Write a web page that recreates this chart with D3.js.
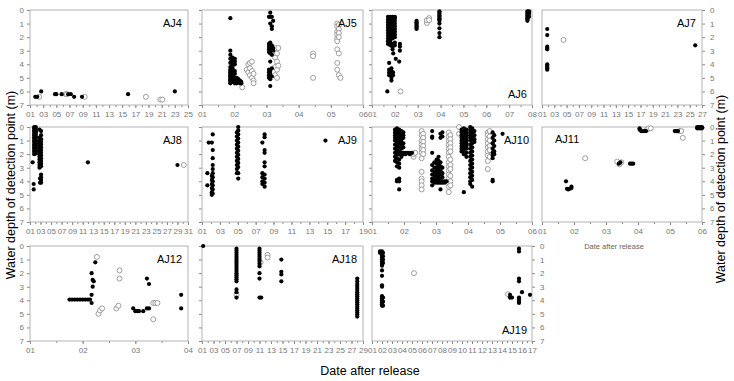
<!DOCTYPE html>
<html>
<head>
<meta charset="utf-8">
<script src="https://cdn.jsdelivr.net/npm/d3@7"></script>
<style>
body { margin: 0; background: #fff; }
svg { font-family: Arial, "Liberation Sans", sans-serif; }
</style>
</head>
<body>
<svg id="chart" width="734" height="381"></svg>
<script>
(function() {

// ---- data: [day, [depths]] ----
const panelNames = ["AJ4", "AJ5", "AJ6", "AJ7", "AJ8", "AJ9", "AJ10", "AJ11", "AJ12", "AJ18", "AJ19"];
const dayMax  = [25, 6, 8, 27, 31, 19, 6, 6, 4, 29, 17];
const dayStep = [2, 1, 1, 2, 2, 2, 1, 1, 1, 2, 1];
const depthTicks = [0, 1, 2, 3, 4, 5, 6, 7];

const aj4Filled = [[1.8,[6.4]],[2.1,[6.4]],[2.7,[6.0]],[4.8,[6.2]],[5.0,[6.2]],[5.8,[6.2]],[6.8,[6.2]],[7.2,[6.2]],[7.7,[6.4]],[8.9,[6.4]],[15.9,[6.2]],[23.0,[6.0]]];
const aj4Open = [[2.4,[6.4]],[6.4,[6.2]],[6.6,[6.2]],[9.3,[6.4]],[18.6,[6.4]],[20.8,[6.6]],[21.1,[6.6]]];

const aj5Filled = [
    [1.88,[0.6,3.0,3.3,3.6,3.9,4.2,4.4,4.5,4.6,4.7,4.8,4.9,5.0,5.1,5.2,5.3,5.4]],
    [1.95,[3.5,3.7,3.9,4.1,4.3,4.5,4.7,4.9,5.1,5.3]],
    [2.02,[3.6,3.8,4.0,4.5,4.7,5.0,5.2,5.4]],
    [2.08,[5.0,5.2,5.4]],[2.13,[5.1,5.3]],[2.18,[5.2,5.4]],[2.22,[5.3,5.4]],
    [3.08,[0.5,2.5,2.7,2.9,3.1,4.4,4.6,4.8,5.0]],
    [3.12,[0.2,0.5,1.0,2.4,2.6,2.8,3.0,3.2,3.8,4.5,4.7,5.1,5.6]],
    [3.17,[0.5,1.2,1.4,2.6,2.9,3.3,4.3,4.9]],
    [3.21,[0.8,2.8,3.0]]
];
const aj5Open = [
    [2.25,[5.7]],[2.39,[4.4]],[2.44,[4.0,4.6]],[2.49,[3.9,4.3,4.8]],[2.55,[3.8,4.5,5.0]],[2.6,[4.7,5.2,5.4]],
    [3.27,[2.8,3.5,4.2,4.8]],[3.33,[3.2,3.8,4.4,5.0]],[3.37,[2.8,4.1]],
    [4.45,[3.2,3.4,5.0]],
    [5.2,[1.0,1.2,1.6,1.8,2.1,2.3,2.9,3.9,4.4]],[5.25,[1.1,1.4,1.7,2.0,3.2,4.8]],[5.3,[5.0]]
];

const aj6Filled = [
    [1.7,[0.5,0.7,0.9,1.1,1.3,1.5,1.7,1.9,2.1,2.3,2.5]],
    [1.8,[0.5,0.6,0.8,1.0,1.2,1.4,1.6,1.8,2.0,2.2,2.4,2.6]],
    [1.9,[0.5,0.7,0.9,1.1,1.3,1.5,1.7,1.9,2.1,2.5,2.7,2.9]],
    [2.0,[0.5,0.6,0.8,1.0,1.2,1.4,1.6,1.8,2.0,2.4,2.6]],
    [1.93,[3.2]],[2.04,[3.6]],[2.19,[3.8]],[2.22,[2.5,2.7,3.0]],
    [1.75,[3.9,4.4,4.6,4.8]],[1.85,[4.3,4.5,4.7,5.0,5.2]],[1.92,[4.6,4.8]],
    [1.67,[6.0]],
    [2.95,[0.8,0.9,1.0,1.1,1.2,1.3,1.4]],
    [3.95,[0.1,0.2,0.3,0.4,0.5,0.6,0.7,0.8,1.0,1.35,1.7,2.0]],
    [7.8,[0.1,0.2,0.3,0.4,0.5,0.6,0.7,0.8]],[7.87,[0.1,0.2,0.3,0.5]]
];
const aj6Open = [[2.25,[6.0]],[3.4,[0.95,0.75]],[3.5,[0.6,0.75]]];

const aj7Filled = [[1.85,[1.4,1.85,2.7,2.8,2.9,4.0,4.1,4.2,4.3,4.4]],[25.9,[2.6]]];
const aj7Open = [[4.5,[2.2]]];

const aj8Filled = [
    [1.8,[0,0.1,0.25,0.35,0.5,0.6,0.75,0.85,1.0,1.1,1.25,1.35,1.5,1.6,1.75,1.85,2.0]],
    [2.1,[0,0.15,0.3,0.4,0.55,0.7,0.8,0.95,1.05,1.2,1.3,1.45,1.55,1.7,1.8,1.95]],
    [1.5,[2.6]],[1.7,[4.2,4.6]],
    [2.8,[0.2,0.8,1.0,1.2,1.4,1.6,1.8,2.0,2.2,2.4,2.6,2.8,3.0]],
    [3.1,[0.3,0.6,0.9,1.1,1.3,1.5,1.7,1.9,2.1,2.3,2.5,2.7,2.9,3.5,3.7,3.9,4.1]],
    [2.9,[3.8,4.1]],
    [12,[2.6]],[29,[2.8]]
];
const aj8Open = [[30.2,[2.8]]];

const aj9Filled = [
    [1.6,[3.4,4.3]],[1.75,[1.15]],
    [2.1,[1.15,3.6,3.9,4.2,4.5,4.8,5.0]],
    [2.2,[0.55,1.7,2.3,2.8,3.1,3.4,3.7,4.0,4.3,4.6,4.9]],
    [4.9,[0.4,0.7,1.0,1.3,1.6,1.9,2.2,2.5,2.8,3.1,3.4]],
    [5.05,[0,0.25,0.55,0.85,1.15,1.45,1.75,2.05,2.35,2.65,2.95,3.4,3.8]],
    [7.75,[1.15,3.4,3.7,4.0,4.2]],
    [8.0,[0.55,0.75,1.7,1.9,2.6,2.9,3.5,3.8,4.1,4.4]],
    [14.8,[1.0]]
];
const aj9Open = [];

const aj10Filled = [
    [1.72,[0.2,0.4,0.6,0.8,1.0,1.3,1.6,1.9,2.2,2.5]],
    [1.78,[0.1,0.3,0.5,0.7,0.9,1.1,1.4,1.7,2.0,2.3,2.6,2.9,3.9,4.0]],
    [1.85,[0.2,0.4,0.6,0.8,1.0,1.2,1.5,1.8,2.0,2.4,2.7,3.0,3.8,4.0,4.6]],
    [1.92,[0.3,0.5,0.7,0.9,1.1,1.3,1.6,1.9,2.0,2.2]],
    [1.98,[0.4,0.6,0.8,1.2,1.5,1.9,2.0]],
    [2.05,[1.9,2.0]],[2.12,[1.9]],[2.18,[1.9,2.0]],[2.25,[1.9]],
    [2.88,[0.3,0.7,0.8,1.9,2.8,3.2,3.5,3.8,4.0,4.3]],
    [2.95,[2.6,3.0,3.3,3.6,3.9,4.0,4.1]],
    [3.02,[2.4,2.7,3.0,3.2,3.4,3.6,3.8,4.0,4.1]],
    [3.08,[2.2,2.5,2.8,3.1,3.3,3.5,3.7,3.9,4.0,4.1]],
    [3.14,[0.5,0.8,2.6,2.9,3.2,3.5,3.8,4.0,4.1,4.6]],
    [3.2,[0.4,0.7,3.0,3.4,3.7,4.0,4.1]],
    [3.27,[4.0,4.1]],[3.33,[4.0]],
    [3.8,[0.2,0.4,0.6,0.8,1.0,1.2,1.4,1.6,1.8]],
    [3.87,[0.1,0.3,0.5,0.7,0.9,1.1,1.3,1.5,1.7,2.0,4.8]],
    [3.95,[0.2,0.4,0.6,0.8,1.0,1.2,1.4,1.6,1.9,2.2]],
    [4.07,[0.0,0.2,0.4,0.6,0.8,1.0,1.3,1.6,1.9,2.2,2.5,2.8,3.1,3.4,3.7,4.0,4.2]],
    [4.13,[0.1,0.3,0.5,0.7,0.9,1.2,1.5,1.8,2.1,2.4,2.7,3.0,3.3,3.6,3.9,4.4]],
    [4.2,[0.3,0.6,0.9,1.1]],
    [4.77,[0.4,0.8,1.2,1.6,1.9,2.1,2.3,3.9,4.0]],
    [4.82,[0.6,1.0,1.4,1.8,2.0]],
    [5.08,[0.5]]
];
const aj10Open = [
    [2.3,[2.2,2.0]],[2.35,[1.9]],
    [2.55,[0.3,0.6,1.0,1.3,1.6,1.9,2.3,3.3,3.8,4.0,4.3,4.6]],
    [2.6,[0.5,0.8,1.1,1.4,1.7,2.0]],
    [3.4,[0.4,0.7,1.0,1.3,1.6,1.9,2.2,2.6,2.9,3.2,3.5,3.8,4.1,4.4,4.8]],
    [3.45,[0.6,0.9,1.2,1.5,1.8,2.4,2.8,3.1,3.6,4.0,4.3]],
    [3.72,[0.0,0.5]],
    [4.62,[0.4,0.6,0.9,1.2,1.5,1.8,2.1,2.5,3.1]],
    [4.68,[0.3,0.7,1.0,1.4,1.7,2.2]]
];

const aj11Filled = [
    [1.75,[4.0]],[1.78,[4.55]],[1.82,[4.6]],[1.87,[4.55]],[1.92,[4.4,4.5]],
    [3.4,[2.7]],[3.45,[2.6]],[3.75,[2.7]],[3.8,[2.7]],[3.85,[2.7]],
    [4.05,[0.1,0.2]],[4.1,[0.3]],[4.15,[0.3]],[4.2,[0.3]],[4.25,[0.3]],
    [5.15,[0.3]],[5.2,[0.3]],[5.25,[0.3]],
    [5.85,[0,0.1]],[5.9,[0,0.1]],[5.95,[0,0.1]],[6.0,[0,0.1]]
];
const aj11Open = [
    [2.35,[2.3]],[3.35,[2.55]],[3.42,[2.75]],[3.48,[2.6]],
    [4.28,[0.2]],[4.33,[0.1]],[4.4,[0.1]],
    [5.3,[0.3]],[5.35,[0.3]],[5.4,[0.8]]
];

const aj12Filled = [
    [1.75,[3.95]],[1.8,[3.95]],[1.85,[3.95]],[1.9,[3.95]],[1.95,[3.95]],[2.0,[3.95]],
    [2.05,[3.95]],[2.1,[3.95]],[2.14,[3.95]],
    [2.17,[4.2,3.6,2.0]],[2.19,[3.0,2.5]],[2.21,[2.6]],[2.24,[1.2]],
    [2.96,[4.6]],[3.0,[4.8]],[3.04,[4.8]],[3.07,[4.8]],[3.15,[4.8]],
    [3.22,[2.4,4.6]],[3.26,[2.8,4.6]],
    [3.87,[3.6,4.6]]
];
const aj12Open = [
    [2.27,[0.8]],[2.3,[5.0]],[2.33,[4.75]],[2.37,[4.6]],
    [2.64,[4.6]],[2.68,[4.4]],[2.7,[1.8,2.4]],
    [3.34,[4.2,5.4]],[3.38,[4.2]],[3.42,[4.2]]
];

const aj18Filled = [
    [1.2,[0]],
    [7.0,[0.2,0.35,0.5,0.65,0.8,0.95,1.1,1.25,1.4,1.55,1.7,1.85,2.0,2.15,2.3,2.45,2.6,3.2,3.4,3.8]],
    [11.0,[0.2,0.35,0.5,0.65,0.8,0.95,1.1,1.3,1.5,2.0,2.4,3.8]],[11.3,[3.8]],
    [14.8,[1.0,1.9,2.1,2.6]],
    [28.0,[2.4,2.6,2.8,2.95,3.1,3.25,3.4,3.55,3.7,3.85,4.0,4.15,4.3,4.45,4.6,4.75,4.9,5.05,5.2]]
];
const aj18Open = [[7.0,[3.6]],[11.2,[1.2]],[12.4,[0.65,0.85]]];

const aj19Filled = [
    [1.8,[0.4,0.5]],
    [2.0,[0.4,0.55,0.7,0.85,1.0,1.15,1.3,1.45,1.8,2.2,2.9,3.0,3.7,3.85,4.0,4.15,4.3,4.4]],
    [2.1,[0.5,0.75,1.0,1.25,3.8,4.1,4.4]],
    [14.8,[3.6,3.8]],[15.0,[3.8]],
    [15.7,[0.2,0.4,2.4,2.6,3.8,3.95,4.1,4.2]],
    [16.0,[3.4]],[16.8,[3.6]]
];
const aj19Open = [[5.2,[2.0]],[14.6,[3.55]]];

const filledSets = [aj4Filled, aj5Filled, aj6Filled, aj7Filled, aj8Filled, aj9Filled, aj10Filled, aj11Filled, aj12Filled, aj18Filled, aj19Filled];
const openSets   = [aj4Open, aj5Open, aj6Open, aj7Open, aj8Open, aj9Open, aj10Open, aj11Open, aj12Open, aj18Open, aj19Open];

// ---- layout ----
const colX = [30, 202, 372, 542];
const colW = [158, 161, 160, 160];
const rowY = [10, 127, 246];
const rowH = 95;
const panelCol = [0, 1, 2, 3, 0, 1, 2, 3, 0, 1, 2];
const panelRow = [0, 0, 0, 0, 1, 1, 1, 1, 2, 2, 2];
const labelPos = ["tr", "tr", "br", "tr", "tr", "tr", "tr", "tl", "tr", "tr", "br"];

const frameColor = "#b4b4b4";
const tickColor = "#888";

const svg = d3.select("#chart");

function flatten(groups) {
    const pts = [];
    groups.forEach(g => g[1].forEach(d => pts.push([g[0], d])));
    return pts;
}

panelNames.forEach((name, i) => {
    const c = panelCol[i], r = panelRow[i];
    const w = colW[c], h = rowH;
    const g = svg.append("g").attr("transform", `translate(${colX[c]},${rowY[r]})`);

    const x = d3.scaleLinear().domain([1, dayMax[i]]).range([0, w]);
    const y = d3.scaleLinear().domain([0, 7]).range([0, h]);

    // minor x ticks
    const minorStep = dayStep[i] === 2 ? 1 : 0.5;
    g.append("g")
        .attr("transform", `translate(0,${h})`)
        .call(d3.axisBottom(x).tickValues(d3.range(1, dayMax[i] + 0.001, minorStep)).tickSize(2).tickFormat(""))
        .call(a => a.select(".domain").remove())
        .call(a => a.selectAll("line").attr("stroke", tickColor));

    // major x ticks
    g.append("g")
        .attr("transform", `translate(0,${h})`)
        .call(d3.axisBottom(x)
            .tickValues(d3.range(1, dayMax[i] + 0.001, dayStep[i]))
            .tickFormat(d3.format("02d"))
            .tickSize(3).tickPadding(3))
        .call(a => a.select(".domain").remove())
        .call(a => a.selectAll("line").attr("stroke", tickColor))
        .call(a => a.selectAll("text").attr("fill", "#777").attr("font-size", "8px")
            .attr("font-family", "Arial, 'Liberation Sans', sans-serif"));

    // y axis
    const rightSide = (c === 3 || name === "AJ19");
    const showLabels = (c === 0 || rightSide);
    const yAxis = (rightSide ? d3.axisRight(y) : d3.axisLeft(y))
        .tickValues(depthTicks)
        .tickSize(3).tickPadding(rightSide ? 5 : 3)
        .tickFormat(showLabels ? d3.format("d") : "");
    g.append("g")
        .attr("transform", rightSide ? `translate(${w},0)` : null)
        .call(yAxis)
        .call(a => a.select(".domain").remove())
        .call(a => a.selectAll("line").attr("stroke", tickColor))
        .call(a => a.selectAll("text").attr("fill", "#777").attr("font-size", "8px")
            .attr("font-family", "Arial, 'Liberation Sans', sans-serif"));

    // frame
    g.append("rect")
        .attr("width", w).attr("height", h)
        .attr("fill", "none")
        .attr("stroke", frameColor)
        .attr("stroke-width", 1);

    // open circles
    g.selectAll(".open")
        .data(flatten(openSets[i]))
        .enter()
        .append("circle")
        .attr("class", "open")
        .attr("cx", d => x(d[0]))
        .attr("cy", d => y(d[1]))
        .attr("r", 2.5)
        .attr("fill", "#fff")
        .attr("stroke", "#888")
        .attr("stroke-width", 0.8);

    // filled circles
    g.selectAll(".filled")
        .data(flatten(filledSets[i]))
        .enter()
        .append("circle")
        .attr("class", "filled")
        .attr("cx", d => x(d[0]))
        .attr("cy", d => y(d[1]))
        .attr("r", 2.1)
        .attr("fill", "#000");

    // panel label
    const pos = labelPos[i];
    const lbl = g.append("text")
        .attr("font-size", "11px")
        .attr("fill", "#000")
        .text(name);
    if (pos === "tr") {
        lbl.attr("x", w - (name === "AJ10" ? 3 : 6)).attr("y", 17).attr("text-anchor", "end");
    } else if (pos === "br") {
        lbl.attr("x", w - 5).attr("y", h - 7).attr("text-anchor", "end");
    } else {
        lbl.attr("x", 13).attr("y", 16).attr("text-anchor", "start");
    }

    if (name === "AJ11") {
        g.append("text")
            .attr("x", 72).attr("y", h + 27)
            .attr("text-anchor", "middle")
            .attr("font-size", "7.5px")
            .attr("fill", "#666")
            .text("Date after release");
    }
});

// axis titles
svg.append("text")
    .attr("transform", "translate(15,185) rotate(-90)")
    .attr("text-anchor", "middle")
    .attr("font-size", "12.5px")
    .text("Water depth of detection point (m)");

svg.append("text")
    .attr("transform", "translate(725,189) rotate(-90)")
    .attr("text-anchor", "middle")
    .attr("font-size", "12.5px")
    .text("Water depth of detection point (m)");

svg.append("text")
    .attr("x", 370).attr("y", 375)
    .attr("text-anchor", "middle")
    .attr("font-size", "12.5px")
    .text("Date after release");

})();
</script>
</body>
</html>
